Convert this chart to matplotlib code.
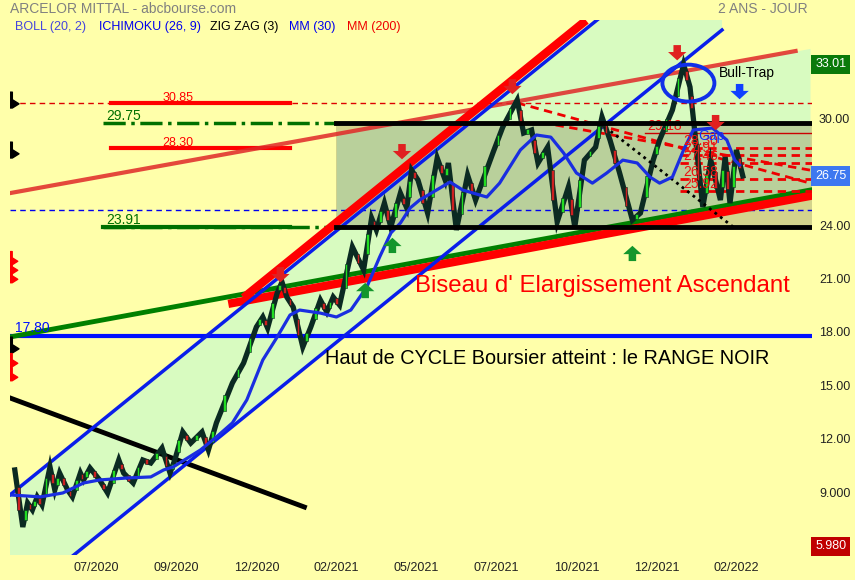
import matplotlib
matplotlib.use("Agg")
import matplotlib.pyplot as plt
import matplotlib.transforms as mtransforms
from matplotlib.patches import Ellipse
from matplotlib.path import Path
import numpy as np

plt.rcParams['font.family'] = ['Liberation Sans', 'DejaVu Sans']

BG = '#ffffaa'
CHANNEL_FILL = '#d8fbc0'

# --- Cours (pivots du zig zag) : index de seance, prix ---
zz_bar = [3, 8, 11, 14, 17, 20, 25, 28, 31, 36,
          39, 44, 46, 50, 56, 61, 68, 71, 77, 83,
          88, 95, 100, 103, 108, 113, 120, 124, 129, 139,
          146, 154, 158, 161, 167, 170, 173, 177, 183, 188,
          194, 198, 202, 206, 214, 221, 226, 229, 234, 238,
          244, 248, 251, 255, 261, 267, 272, 274, 279, 286,
          291, 302, 308, 317, 321, 326, 330, 336, 342, 349,
          353, 359, 366, 370, 375, 381, 389, 394, 402, 406,
          414, 421, 425, 427, 433, 438, 444, 447, 450, 454, 458]
zz_price = [10.26, 7.06, 8.41, 8.02, 8.75, 8.30, 10.43, 9.14, 10.09, 9.14,
            8.75, 10.09, 9.70, 10.37, 9.70, 8.97, 10.82, 10.09, 9.53, 10.82,
            10.65, 11.49, 10.09, 10.82, 12.39, 11.77, 12.39, 11.38, 12.90, 15.14,
            16.26, 18.28, 18.84, 18.22, 20.19, 20.80, 19.96, 19.40, 17.16, 18.28,
            19.79, 19.12, 19.96, 19.51, 22.77, 21.48, 24.39, 23.72, 25.23, 23.89,
            25.79, 24.95, 27.08, 26.52, 24.67, 27.76, 26.52, 27.48, 23.72, 26.80,
            25.40, 28.09, 29.50, 31.01, 29.16, 29.33, 27.48, 28.37, 24.17, 26.13,
            23.89, 27.64, 28.37, 30.06, 28.77, 26.92, 24.28, 24.67, 27.64, 28.77,
            30.45, 33.01, 31.74, 30.06, 25.01, 27.64, 25.40, 27.81, 25.23, 28.21, 26.75]

# --- MM (30) ---
ma_bar = [0, 19, 33, 46, 56, 73, 88, 96, 102, 119,
          129, 139, 148, 158, 167, 175, 181, 194, 204, 213,
          223, 231, 238, 244, 250, 256, 275, 283, 298, 306,
          319, 329, 338, 346, 354, 364, 373, 383, 392, 400,
          406, 414, 421, 427, 439, 448, 453, 456]
ma_price = [8.86, 8.75, 8.97, 9.53, 9.70, 9.81, 9.87, 10.26, 10.43, 11.38,
            12.11, 12.90, 14.19, 16.43, 17.72, 18.95, 19.23, 19.06, 18.84, 19.23,
            20.52, 22.20, 23.55, 24.11, 24.95, 25.40, 26.41, 25.96, 25.57, 26.35,
            28.21, 29.05, 28.93, 28.04, 26.92, 26.35, 26.92, 27.64, 27.48, 26.69,
            26.35, 26.69, 28.21, 29.33, 29.44, 28.77, 27.64, 27.36]

# --- Droites tracees (extremites) ---
chan_up_bar, chan_up_price = [0, 445], [8.86, 41.17]
chan_low_bar, chan_low_price = [0, 445], [2.59, 34.94]
wedge_top_bar, wedge_top_price = [148, 358], [20.07, 35.33]
wedge_low_bar, wedge_low_price = [139, 500], [19.62, 25.63]
green_bar, green_price = [0, 500], [17.72, 25.96]
red_thin_bar, red_thin_price = [0, 491], [25.79, 33.76]
black_bar, black_price = [0, 184], [14.30, 8.18]
zz_dot_bar, zz_dot_price = [372, 452], [29.50, 23.89]
fan1_bar, fan1_price = [317, 500], [30.85, 26.35]
fan2_bar, fan2_price = [341, 500], [29.61, 27.08]

# --- Niveaux ---
range_high, range_low, range_start = 29.75, 23.91, 204
old_levels = [30.85, 28.30]
gap_levels = [28.30, 27.91, 27.46, 26.58, 25.92]
level_2918 = 29.18
support_1780 = 17.80
dash_red = 30.85
dash_blue = 24.84

# fleches : (seance, prix)
red_down = [(169, 20.63), (245, 27.53), (314, 31.18), (417, 33.08), (441, 29.16)]
green_up = [(222, 20.91), (239, 23.44), (389, 22.99)]
blue_down = [(456, 30.90)]

# signaux a gauche
sig_black = [31.0, 28.2, 17.27]
sig_red = [22.15, 21.64, 21.14, 16.43, 15.64]

x_ticks = [54, 104, 154, 204, 254, 304, 354, 404, 454]
x_labels = ['07/2020', '09/2020', '12/2020', '02/2021', '05/2021',
            '07/2021', '10/2021', '12/2021', '02/2022']
y_ticks = [9, 12, 15, 18, 21, 24, 27, 30]
y_labels = ['9.000', '12.00', '15.00', '18.00', '21.00', '24.00', '27.00', '30.00']
last_price, high_price, low_price = 26.75, 33.01, 5.980


def line_at(b, xs, ys):
    b = np.asarray(b, dtype=float)
    return ys[0] + (b - xs[0]) * (ys[1] - ys[0]) / (xs[1] - xs[0])


fig = plt.figure(figsize=(8.55, 5.8), dpi=100, facecolor=BG)
ax = fig.add_axes([10 / 855, 1 - 555 / 580, 802 / 855, 535 / 580])
ax.set_facecolor(BG)
ax.set_xlim(0, 501.25)
ax.set_ylim(5.49, 35.5)

# zones colorees
wb = np.array([204, 500])
ax.fill_between(wb, line_at(wb, green_bar, green_price), line_at(wb, red_thin_bar, red_thin_price),
                color=CHANNEL_FILL, lw=0, zorder=1)
cb = np.array(chan_up_bar)
ax.fill_between(cb, line_at(cb, chan_low_bar, chan_low_price), chan_up_price,
                color=CHANNEL_FILL, lw=0, zorder=1)
ax.fill_between([range_start, 501.25], range_low, range_high, color='#7a7a50',
                alpha=0.33, lw=0, zorder=2)

# lignes horizontales
ax.axhline(dash_red, color='#dd0000', lw=1, ls=(0, (4, 3)), zorder=3)
ax.axhline(dash_blue, color='#0000ee', lw=1, ls=(0, (4, 3)), zorder=3)
ax.axhline(support_1780, color='#0010ff', lw=3, zorder=4)
ax.text(3, support_1780 + 0.02, '%.2f' % support_1780, color='#0010ff', fontsize=10,
        va='bottom', zorder=9)

for lv in old_levels:
    ax.plot([63, 175], [lv, lv], color='#ff0000', lw=3, zorder=4)
    ax.text(105, lv - 0.05, '%.2f' % lv, color='#ff0000', fontsize=9, ha='center',
            va='bottom', zorder=9)
for lv in (range_high, range_low):
    ax.plot([58, range_start], [lv, lv], color='#007000', lw=2.5, ls='-.', zorder=4)
    ax.text(60, lv - 0.02, '%.2f' % lv, color='#007000', fontsize=10, va='bottom', zorder=9)
ax.plot([58, 175], [range_low, range_low], color='#007000', lw=3, zorder=4)

# droites
ax.plot(black_bar, black_price, color='black', lw=3.5, zorder=4)
ax.plot(green_bar, green_price, color='#008000', lw=3.5, zorder=5)
ax.plot(wedge_low_bar, wedge_low_price, color='#ff0000', lw=6, zorder=5)
ax.plot(red_thin_bar, red_thin_price, color='#e02828', lw=3, alpha=0.85, zorder=5)
ax.plot(chan_up_bar, chan_up_price, color='#0a1eea', lw=2.5, zorder=6)
ax.plot(chan_low_bar, chan_low_price, color='#0a1eea', lw=2.5, zorder=6)
ax.plot(wedge_top_bar, wedge_top_price, color='#ff0000', lw=6, zorder=6)

# niveaux du gap
for lv in gap_levels:
    ax.plot([419, 501.25], [lv, lv], color='#ee0000', lw=2, ls=(0, (3, 2)), zorder=6)
    ax.text(421, lv, '%.2f' % lv, color='#ee1010', fontsize=10, va='bottom', zorder=9)
ax.plot([397, 501.25], [level_2918, level_2918], color='#cc0000', lw=1, zorder=6)
ax.text(398, level_2918, '%.2f' % level_2918, color='#ee1010', fontsize=10, va='bottom', zorder=9)
ax.text(430, 28.6, 'Gap', color='#1030ff', fontsize=10, va='bottom', zorder=9)
ax.plot(fan1_bar, fan1_price, color='#ee0000', lw=2, ls=(0, (3, 2)), zorder=6)
ax.plot(fan2_bar, fan2_price, color='#ee0000', lw=2, ls=(0, (3, 2)), zorder=6)
ax.plot(zz_dot_bar, zz_dot_price, color='black', lw=2, ls=(0, (1, 1.5)), zorder=8)

# cours : zig zag + petites bougies
ax.plot(zz_bar, zz_price, color='#0b2a22', lw=3.8, solid_joinstyle='miter', zorder=7)
for i in range(len(zz_bar) - 1):
    b0, b1 = zz_bar[i], zz_bar[i + 1]
    p0, p1 = zz_price[i], zz_price[i + 1]
    amp = max(abs(p1 - p0) * 0.2, 0.15)
    col = '#22dd22' if p1 > p0 else '#cc2020'
    ax.bar((b0 + b1) / 2, 2 * amp, bottom=(p0 + p1) / 2 - amp, width=1.8,
           color=col, edgecolor='#0b2a22', lw=0.4, zorder=8)

# MM 30
ax.plot(ma_bar, ma_price, color='#1a2ee0', lw=2.3, zorder=8)

# range noir
ax.plot([range_start, 501.25], [range_high, range_high], color='black', lw=3.5, zorder=9)
ax.plot([range_start, 501.25], [range_low, range_low], color='black', lw=3.5, zorder=9)

# fleches
def arrow(b, p, color, up):
    off = -15 if up else 15
    ax.annotate('', xy=(b, p), xytext=(0, off), textcoords='offset points',
                arrowprops=dict(arrowstyle='simple,head_length=0.5,head_width=1.1,tail_width=0.45',
                                color=color, lw=0, mutation_scale=12), zorder=10)

for b, p in red_down:
    arrow(b, p, '#e02020', False)
for b, p in green_up:
    arrow(b, p, '#13962c', True)
for b, p in blue_down:
    arrow(b, p, '#1040ff', False)

ax.add_patch(Ellipse((424, 31.96), 32.5, 2.07, fill=False, ec='#1030e8', lw=2.8, zorder=10))
ax.text(443, 32.3, 'Bull-Trap', fontsize=10, color='black', zorder=10)

# signaux a gauche
sig_marker = Path([(-0.15, 1), (0.1, 1), (0.1, 0.1), (0.9, -0.4), (0.1, -0.9), (-0.15, -0.9), (-0.15, 1)],
                  [Path.MOVETO] + [Path.LINETO] * 5 + [Path.CLOSEPOLY])
ax.plot([0.8] * len(sig_black), sig_black, ls='none', marker=sig_marker, ms=12,
        color='black', zorder=10)
ax.plot([0.8] * len(sig_red), sig_red, ls='none', marker=sig_marker, ms=10,
        color='#ff0000', zorder=10)

# textes
ax.text(253, 20.6, "Biseau d' Elargissement Ascendant", color='#ff0000', fontsize=17.3,
        va='center', zorder=10)
ax.text(197, 16.5, 'Haut de CYCLE Boursier atteint : le RANGE NOIR', color='black',
        fontsize=14.3, va='center', zorder=10)

# axes
for s in ax.spines.values():
    s.set_visible(False)
ax.yaxis.tick_right()
ax.set_yticks(y_ticks)
ax.set_yticklabels(y_labels)
ax.set_xticks(x_ticks)
ax.set_xticklabels(x_labels)
ax.tick_params(axis='y', length=0, pad=5, labelsize=9, labelcolor='#222222')
ax.tick_params(axis='x', length=0, pad=5, labelsize=9, labelcolor='#222222')

trans = mtransforms.blended_transform_factory(ax.transAxes, ax.transData)
for val, txt, fc in [(high_price, '33.01', '#0a7a0a'), (last_price, '26.75', '#3d78f0'),
                     (low_price, '5.980', '#c00000')]:
    ax.text(1.004, val, txt, transform=trans, color='white', fontsize=9, va='center',
            ha='left', zorder=12, clip_on=False,
            bbox=dict(boxstyle='square,pad=0.3', fc=fc, ec='none'))

fig.text(10 / 855, 1 - 9 / 580, 'ARCELOR MITTAL - abcbourse.com', color='#808080',
         fontsize=10, va='center')
fig.text(808 / 855, 1 - 9 / 580, '2 ANS - JOUR', color='#808080', fontsize=10,
         va='center', ha='right')
legend_items = [('BOLL (20, 2)', '#4545dd', 15), ('ICHIMOKU (26, 9)', '#0000ee', 99),
                ('ZIG ZAG (3)', 'black', 210), ('MM (30)', '#0000ee', 289),
                ('MM (200)', '#ee0000', 347)]
for txt, col, xp in legend_items:
    fig.text(xp / 855, 1 - 27 / 580, txt, color=col, fontsize=9, va='center')

fig.savefig('out.png', dpi=100, facecolor=BG)
